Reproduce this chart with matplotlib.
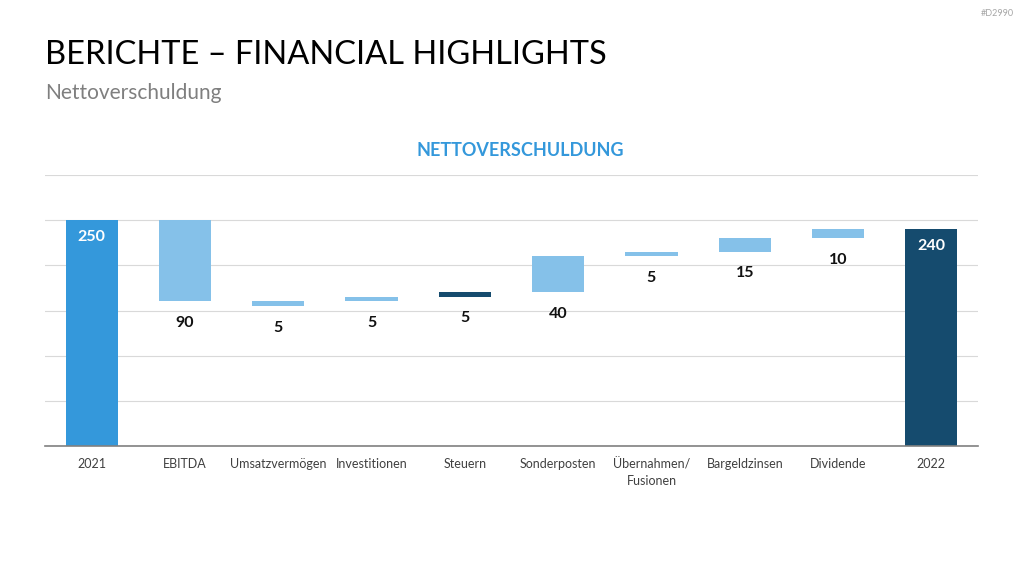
import matplotlib.pyplot as plt

# waterfall data: start / end level for each step
categories = ["2021", "EBITDA", "Umsatzvermögen", "Investitionen", "Steuern",
              "Sonderposten", "Übernahmen/\nFusionen", "Bargeldzinsen", "Dividende", "2022"]
starts = [0, 250, 160, 160, 165, 170, 210, 215, 230, 0]
ends = [250, 160, 155, 165, 170, 210, 215, 230, 240, 240]
labels = ["250", "90", "5", "5", "5", "40", "5", "15", "10", "240"]
kinds = ["total", "step", "step", "step", "dark", "step", "step", "step", "step", "endtotal"]

colors = {"total": "#3498db", "step": "#85c1e9", "dark": "#154b6e", "endtotal": "#154b6e"}

plt.rcParams['font.family'] = ['Lato', 'DejaVu Sans']

fig = plt.figure(figsize=(10.24, 5.76), dpi=100)
ax = fig.add_axes([45/1024, 1 - 446/576, 933/1024, 271/576])

for i, (s, e, k) in enumerate(zip(starts, ends, kinds)):
    lo, hi = min(s, e), max(s, e)
    ax.bar(i, hi - lo, bottom=lo, width=0.56, color=colors[k], zorder=3)
    if k in ("total", "endtotal"):
        ax.annotate(labels[i], (i, hi), xytext=(0, -12), textcoords="offset points",
                    ha="center", va="center", color="white", fontsize=11.5, fontweight="bold")
    else:
        ax.annotate(labels[i], (i, lo), xytext=(0, -15.5), textcoords="offset points",
                    ha="center", va="center", color="#111111", fontsize=11.5, fontweight="bold")

ax.set_xlim(-0.5, len(categories) - 0.5)
ax.set_ylim(0, 300)
ax.set_yticks(range(0, 301, 50))
ax.set_yticklabels([])
ax.tick_params(axis="y", length=0)
ax.grid(axis="y", color="#d9d9d9", linewidth=0.8, zorder=0)
ax.set_xticks(range(len(categories)))
ax.set_xticklabels(categories, fontsize=9, color="#404040", linespacing=1.45)
ax.tick_params(axis="x", length=0, pad=9)
for side in ("top", "right", "left"):
    ax.spines[side].set_visible(False)
ax.spines["bottom"].set_color("#808080")
ax.spines["bottom"].set_linewidth(1.2)
ax.spines["bottom"].set_zorder(4)

fig.text(45/1024, 1 - 55/576, "BERICHTE – FINANCIAL HIGHLIGHTS", fontsize=23.5,
         color="black", va="center", ha="left")
fig.text(45/1024, 1 - 93/576, "Nettoverschuldung", fontsize=15, color="#7f7f7f",
         va="center", ha="left")
fig.text(520/1024, 1 - 150/576, "NETTOVERSCHULDUNG", fontsize=13, fontweight="bold",
         color="#3498db", va="center", ha="center")
fig.text(1014/1024, 1 - 13/576, "#D2990", fontsize=6.5, color="#a6a6a6",
         va="center", ha="right")

fig.savefig("out.png", dpi=100, facecolor="white")
